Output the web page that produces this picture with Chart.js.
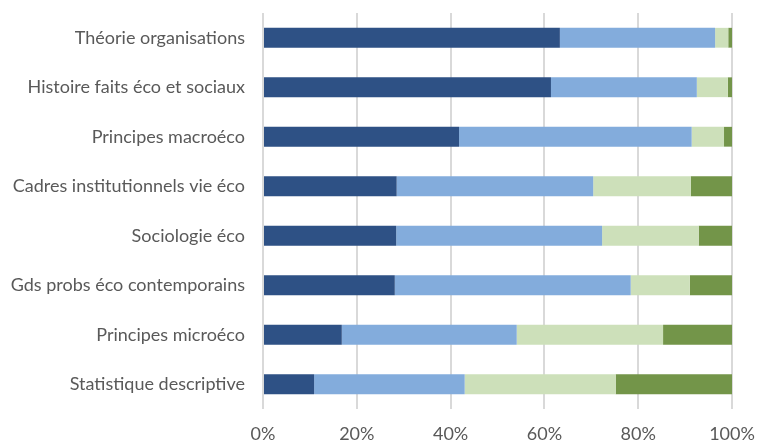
<!DOCTYPE html>
<html><head><meta charset="utf-8">
<script src="https://cdn.jsdelivr.net/npm/chart.js@4/dist/chart.umd.min.js"></script>
<style>html,body{margin:0;padding:0;background:#fff}#wrap{width:757px;height:445px;position:relative}</style>
</head><body><div id="wrap"><canvas id="c"></canvas></div>
<script>
const categories = ["Théorie organisations","Histoire faits éco et sociaux","Principes macroéco","Cadres institutionnels vie éco","Sociologie éco","Gds probs éco contemporains","Principes microéco","Statistique descriptive"];
const series1 = [63.3, 61.4, 41.8, 28.5, 28.4, 28.1, 16.8, 10.9];
const series2 = [33.1, 31.1, 49.6, 41.9, 43.9, 50.3, 37.3, 32.1];
const series3 = [2.8, 6.6, 6.9, 20.8, 20.6, 12.6, 31.2, 32.2];
const series4 = [0.8, 0.9, 1.7, 8.8, 7.1, 9.0, 14.7, 24.8];
const xTicks = [0, 20, 40, 60, 80, 100];

const font = {family: "Lato, 'Open Sans', sans-serif", size: 18};
new Chart(document.getElementById('c'), {
  type: 'bar',
  data: {
    labels: categories,
    datasets: [
      {label: 'S1', data: series1, backgroundColor: '#2E5185'},
      {label: 'S2', data: series2, backgroundColor: '#83ACDC'},
      {label: 'S3', data: series3, backgroundColor: '#CDE0BA'},
      {label: 'S4', data: series4, backgroundColor: '#739549'}
    ]
  },
  options: {
    indexAxis: 'y',
    responsive: true,
    maintainAspectRatio: false,
    animation: false,
    categoryPercentage: 1,
    barPercentage: 0.4,
    layout: {padding: {top: 0, right: 0, bottom: 0, left: 0}},
    plugins: {legend: {display: false}, tooltip: {enabled: false}},
    scales: {
      x: {
        stacked: true, min: 0, max: 100,
        afterBuildTicks: s => { s.ticks = xTicks.map(v => ({value: v})); },
        afterFit: s => { s.height = 36; s.paddingRight = 25; s.paddingLeft = 0; },
        grid: {color: '#D9D9D9', lineWidth: 2, drawTicks: false},
        border: {display: false},
        ticks: {color: '#595959', font: font, padding: 14, callback: v => v + '%', maxRotation: 0}
      },
      y: {
        stacked: true,
        afterFit: s => { s.width = 263; s.paddingTop = 13; s.paddingBottom = 0; },
        grid: {display: false, drawTicks: false},
        border: {display: false},
        ticks: {color: '#595959', font: font, padding: 18}
      }
    }
  }
});
</script></body></html>
